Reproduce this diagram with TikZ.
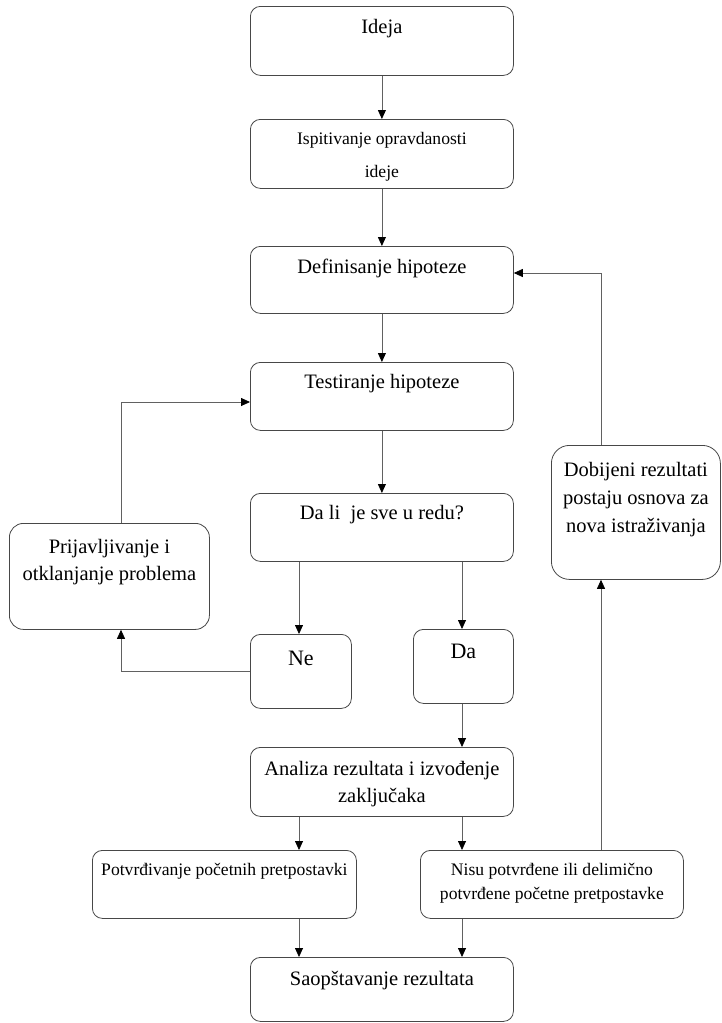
\documentclass[tikz,border=0pt]{standalone}
\usepackage{fontspec}
\setmainfont{Liberation Serif}
\usetikzlibrary{arrows.meta}
\newcommand\bt[4]{\parbox[t][#2][t]{#1}{\centering\rule{0pt}{#3}#4}}
\newcommand\bigf{\fontsize{20.5pt}{27pt}\selectfont}
\newcommand\smallf{\fontsize{17.6pt}{24pt}\selectfont}
\begin{document}
\begin{tikzpicture}[x=1pt,y=-1pt,
  box/.style={draw=black!72, line width=0.8pt, rounded corners=10pt, inner sep=0pt, anchor=north west},
  arr/.style={draw=black!62, line width=0.8pt, -{Triangle[length=9pt,width=8pt,color=black]}},
  ln/.style={draw=black!62, line width=0.8pt}]
\useasboundingbox (0,0) rectangle (721,1023);
\coordinate (cA) at (299,0);
\coordinate (cB) at (462,0);
\coordinate (rL) at (121,0);
\coordinate (rR) at (601,0);
\coordinate (yT) at (0,402);
\coordinate (yD) at (0,273);

\node[box] (ideja) at (250,6) {\bt{263pt}{69pt}{27pt}{\bigf Ideja}};
\node[box] (isp) at (250,119) {\bt{263pt}{69pt}{25pt}{\fontsize{17.6pt}{33pt}\selectfont Ispitivanje opravdanosti\\ideje}};
\node[box] (def) at (250,246) {\bt{263pt}{67pt}{27pt}{\bigf Definisanje hipoteze}};
\node[box] (test) at (250,362) {\bt{263pt}{68pt}{26pt}{\bigf Testiranje hipoteze}};
\node[box] (dali) at (250,493) {\bt{263pt}{68pt}{26pt}{\bigf Da li\ \ je sve u redu?}};
\node[box, rounded corners=14pt] (prijav) at (9,523) {\bt{200pt}{106pt}{30pt}{\bigf Prijavljivanje i\\otklanjanje problema}};
\node[box] (ne) at (250,634) {\bt{101pt}{74pt}{31pt}{\fontsize{22pt}{27pt}\selectfont Ne}};
\node[box] (da) at (413,629) {\bt{100pt}{74pt}{29pt}{\fontsize{22pt}{27pt}\selectfont Da}};
\node[box, rounded corners=18pt] (dob) at (551,445) {\bt{169pt}{134pt}{31pt}{\fontsize{20.5pt}{28pt}\selectfont Dobijeni rezultati\\postaju osnova za\\nova istraživanja}};
\node[box] (anal) at (250,747) {\bt{263pt}{69pt}{28pt}{\bigf Analiza rezultata i izvođenje\\zaključaka}};
\node[box] (potv) at (92,850) {\bt{264pt}{68pt}{25pt}{\smallf Potvrđivanje početnih pretpostavki}};
\node[box] (nisu) at (420,850) {\bt{263pt}{68pt}{25pt}{\smallf Nisu potvrđene ili delimično\\potvrđene početne pretpostavke}};
\node[box] (saop) at (250,957) {\bt{263pt}{64pt}{28pt}{\bigf Saopštavanje rezultata}};

\draw[arr] (ideja) -- (isp);
\draw[arr] (isp) -- (def);
\draw[arr] (def) -- (test);
\draw[arr] (test) -- (dali);
\draw[arr] (dali.south -| cA) -- (ne.north -| cA);
\draw[arr] (dali.south -| cB) -- (da.north -| cB);
\draw[arr] (ne.west) -| (prijav.south -| rL);
\draw[arr] (prijav.north -| rL) |- (test.west |- yT);
\draw[arr] (da.south -| cB) -- (anal.north -| cB);
\draw[arr] (anal.south -| cA) -- (potv.north -| cA);
\draw[arr] (anal.south -| cB) -- (nisu.north -| cB);
\draw[arr] (potv.south -| cA) -- (saop.north -| cA);
\draw[arr] (nisu.south -| cB) -- (saop.north -| cB);
\draw[arr] (nisu.north -| rR) -- (dob.south -| rR);
\draw[arr] (dob.north -| rR) |- (def.east |- yD);
\end{tikzpicture}
\end{document}
